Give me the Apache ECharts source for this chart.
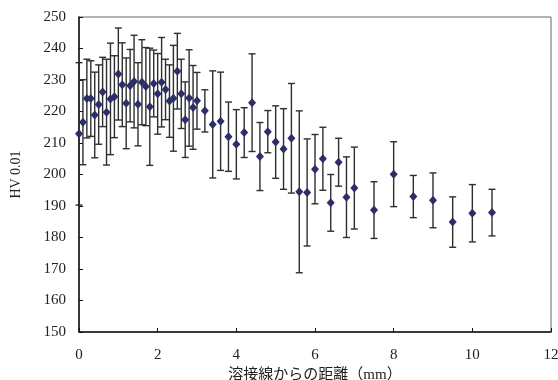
<!DOCTYPE html>
<html>
<head>
<meta charset="utf-8">
<script src="https://cdn.jsdelivr.net/npm/echarts@6/dist/echarts.min.js"></script>
<style>html,body{margin:0;padding:0;background:#fff}#c{width:558px;height:380px}</style>
</head>
<body>
<div id="c"></div>
<script>
// distance from weld line (mm)
const distances = [0,0.1,0.2,0.3,0.4,0.5,0.6,0.7,0.8,0.9,1.0,1.1,1.2,1.3,1.4,1.5,1.6,1.7,1.8,1.9,2.0,2.1,2.2,2.3,2.4,2.5,2.6,2.7,2.8,2.9,3.0,
  3.2,3.4,3.6,3.8,4.0,4.2,4.4,4.6,4.8,5.0,5.2,5.4,5.6,5.8,6.0,6.2,6.4,6.6,6.8,7.0,7.5,8.0,8.5,9.0,9.5,10.0,10.5];
// mean hardness HV 0.01
const hardness = [212.9,216.6,224.1,224.1,218.9,222.2,226.2,219.8,224.0,224.7,231.9,228.5,222.6,228.2,229.5,222.3,229.3,227.9,221.5,228.9,225.6,229.3,227.0,223.3,224.2,232.8,225.6,217.4,224.3,221.3,223.4,
  220.2,215.9,216.9,212.0,209.6,213.3,222.8,205.7,213.6,210.3,208.1,211.5,194.5,194.3,201.7,205.0,191.0,203.9,192.8,195.7,188.7,200.1,193.0,191.8,184.9,187.7,187.9];
// error (± standard deviation)
const errors = [22.6,13.5,12.5,12.0,13.6,12.6,11.0,16.8,17.7,13.0,14.6,13.3,14.4,11.5,14.7,13.2,13.5,12.4,18.6,10.6,12.8,14.2,9.6,11.5,16.8,12.0,11.0,12.0,15.3,13.3,9.0,
  6.7,17.0,15.6,11.0,11.0,7.9,15.5,10.8,6.7,11.5,12.8,17.4,25.7,17.0,11.0,10.0,9.0,7.6,12.8,13.0,9.0,10.3,6.7,8.7,8.0,9.1,7.4];
const xTicks = [0,2,4,6,8,10,12];
const yTicks = [150,160,170,180,190,200,210,220,230,240,250];
const xName = '溶接線からの距離（mm）';
const yName = 'HV 0.01';

const pts = distances.map((d,i)=>[d, hardness[i]]);
const bars = distances.map((d,i)=>[d, hardness[i]+errors[i], hardness[i]-errors[i]]);

const serif = '"Liberation Serif","DejaVu Serif",serif';
const chart = echarts.init(document.getElementById('c'), null, {renderer:'canvas'});
chart.setOption({
  animation:false,
  backgroundColor:'#fff',
  grid:{left:79,right:7,top:17,bottom:48,containLabel:false,outerBoundsMode:'none',show:true,borderColor:'#666',borderWidth:1},
  xAxis:{
    type:'value',min:xTicks[0],max:xTicks[xTicks.length-1],interval:2,
    name:xName,nameLocation:'middle',nameGap:32,
    nameTextStyle:{fontFamily:'"Liberation Serif","Noto Sans CJK JP",serif',fontSize:15,color:'#222'},
    axisLine:{show:true,lineStyle:{color:'#111',width:1.5}},
    axisTick:{show:true,inside:true,length:4,lineStyle:{color:'#111'}},
    axisLabel:{fontFamily:serif,fontSize:15,color:'#222',margin:16},
    splitLine:{show:false}
  },
  yAxis:{
    type:'value',min:yTicks[0],max:yTicks[yTicks.length-1],interval:10,
    name:yName,nameLocation:'middle',nameGap:56,
    nameTextStyle:{fontFamily:serif,fontSize:14,color:'#222'},
    axisLine:{show:true,lineStyle:{color:'#111',width:1.5}},
    axisTick:{show:true,inside:true,length:4,lineStyle:{color:'#111'}},
    axisLabel:{fontFamily:serif,fontSize:15,color:'#222',margin:13},
    splitLine:{show:false}
  },
  series:[
    {
      type:'custom',
      data:bars,
      clip:false,
      z:2,
      renderItem:function(params, api){
        const x = api.value(0);
        const top = api.coord([x, api.value(1)]);
        const bot = api.coord([x, api.value(2)]);
        const hw = 3.5;
        const st = {stroke:'#2e2e2e',lineWidth:1.4};
        return {type:'group',children:[
          {type:'line',shape:{x1:top[0],y1:top[1],x2:bot[0],y2:bot[1]},style:st},
          {type:'line',shape:{x1:top[0]-hw,y1:top[1],x2:top[0]+hw,y2:top[1]},style:st},
          {type:'line',shape:{x1:bot[0]-hw,y1:bot[1],x2:bot[0]+hw,y2:bot[1]},style:st}
        ]};
      }
    },
    {
      type:'scatter',
      data:pts,
      symbol:'diamond',
      symbolSize:[8,9],
      clip:false,
      z:5,
      itemStyle:{color:'#2c2e68',opacity:1}
    }
  ]
});
</script>
</body>
</html>
